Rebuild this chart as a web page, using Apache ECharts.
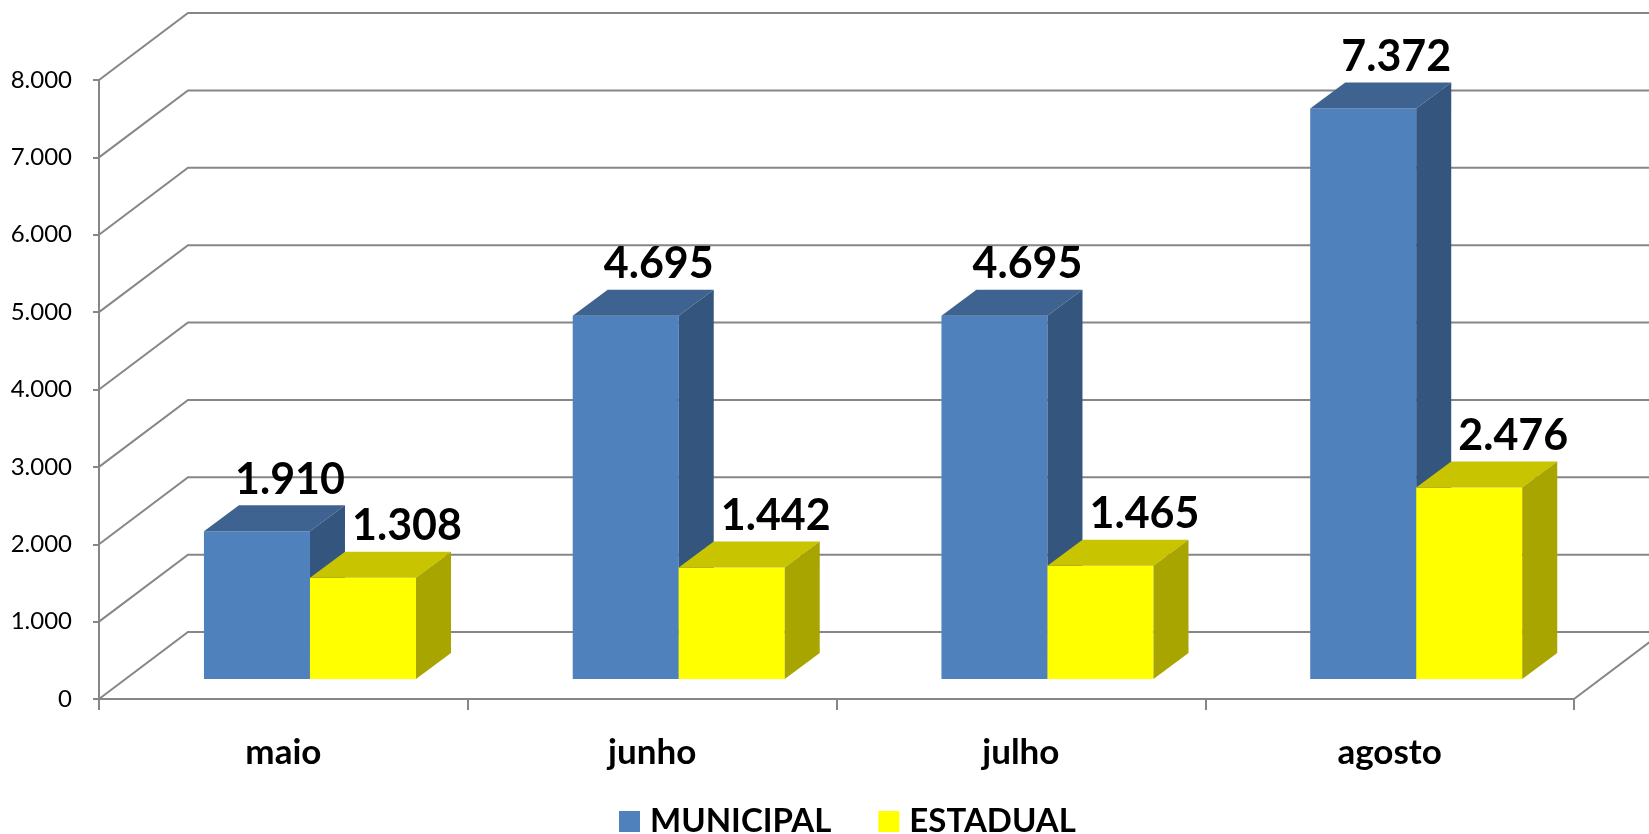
<!DOCTYPE html>
<html>
<head>
<meta charset="utf-8">
<script src="https://cdn.jsdelivr.net/npm/echarts@6/dist/echarts.min.js"></script>
<style>
  html, body { margin: 0; padding: 0; background: #fff; }
  #chart { width: 1649px; height: 834px; }
</style>
</head>
<body>
<div id="chart"></div>
<script>
const months = ["maio", "junho", "julho", "agosto"];
const municipal = [1910, 4695, 4695, 7372];
const estadual = [1308, 1442, 1465, 2476];
const yTicks = [0, 1000, 2000, 3000, 4000, 5000, 6000, 7000, 8000];

const FONT = "Lato";
const LINE = "#868686";
// profundidade do "3D"
const WALL_DX = 89, WALL_DY = -67;
const BAR_DX = 26.6, BAR_DY = -20;
const DEPTH_DX = 35, DEPTH_DY = -26;

const fmt = (v) => String(v).replace(/\B(?=(\d{3})+(?!\d))/g, ".");

const faces = {
  MUNICIPAL: { front: "#4F81BD", top: "#3F6391", side: "#34557D", labelShift: -2 },
  ESTADUAL: { front: "#FFFF00", top: "#C8C400", side: "#A8A500", labelShift: 9 }
};

// paredes do fundo + linhas diagonais
const renderWall = (params, api) => {
  const cs = params.coordSys;
  const y = api.coord([0, api.value(1)])[1];
  const x0 = cs.x;
  const children = [
    {
      type: "polyline",
      shape: { points: [[x0, y], [x0 + WALL_DX, y + WALL_DY], [x0 + cs.width + WALL_DX + 200, y + WALL_DY]] },
      style: { stroke: LINE, lineWidth: 2, fill: null }
    }
  ];
  if (api.value(1) === 0) {
    children.push({
      type: "line",
      shape: { x1: x0 + cs.width, y1: y, x2: x0 + cs.width + WALL_DX, y2: y + WALL_DY },
      style: { stroke: LINE, lineWidth: 2 }
    });
  }
  return { type: "group", children };
};

const makeBarRender = (k, name) => (params, api) => {
  const cat = api.value(0);
  const val = api.value(1);
  const top = api.coord([cat, val]);
  const base = api.coord([cat, 0]);
  const band = api.size([1, 0])[0];
  const w = band * 0.2875;
  const left = top[0] - w + k * w + BAR_DX;
  const yT = top[1] + BAR_DY;
  const yB = base[1] + BAR_DY;
  const c = faces[name];
  return {
    type: "group",
    children: [
      { type: "rect", shape: { x: left, y: yT, width: w, height: yB - yT }, style: { fill: c.front } },
      {
        type: "polygon",
        shape: { points: [[left, yT], [left + w, yT], [left + w + DEPTH_DX, yT + DEPTH_DY], [left + DEPTH_DX, yT + DEPTH_DY]] },
        style: { fill: c.top }
      },
      {
        type: "polygon",
        shape: { points: [[left + w, yT], [left + w + DEPTH_DX, yT + DEPTH_DY], [left + w + DEPTH_DX, yB + DEPTH_DY], [left + w, yB]] },
        style: { fill: c.side }
      },
      {
        type: "text",
        x: left + w / 2 + DEPTH_DX + c.labelShift,
        y: yT + DEPTH_DY - 4,
        style: {
          text: fmt(val),
          fill: "#000",
          font: "bold 43px " + FONT,
          align: "center",
          verticalAlign: "bottom"
        }
      }
    ]
  };
};

const option = {
  animation: false,
  grid: { left: 99, top: 80, right: 75, bottom: 135 },
  legend: {
    bottom: -4,
    left: 619,
    padding: 0,
    icon: "rect",
    itemWidth: 21,
    itemHeight: 21,
    itemGap: 47,
    data: ["MUNICIPAL", "ESTADUAL"],
    textStyle: { fontFamily: FONT, fontWeight: "bold", fontSize: 33, color: "#000", padding: [0, 0, 0, 5] }
  },
  xAxis: {
    type: "category",
    data: months,
    boundaryGap: true,
    axisLine: { show: true, lineStyle: { color: LINE, width: 2 } },
    axisTick: { show: true, length: 11, lineStyle: { color: LINE, width: 2 } },
    axisLabel: { margin: 36, fontFamily: FONT, fontWeight: "bold", fontSize: 35, color: "#000" },
    splitLine: { show: false }
  },
  yAxis: {
    type: "value",
    min: 0,
    max: 8000,
    interval: 1000,
    axisLine: { show: true, lineStyle: { color: LINE, width: 2 } },
    axisTick: { show: true, length: 6, lineStyle: { color: LINE, width: 2 } },
    axisLabel: { margin: 27, fontFamily: FONT, fontSize: 24, color: "#000", formatter: fmt },
    splitLine: { show: false }
  },
  series: [
    {
      name: "wall",
      type: "custom",
      clip: false,
      silent: true,
      z: 1,
      encode: { x: 0, y: 1 },
      data: yTicks.map((v) => [0, v]),
      renderItem: renderWall
    },
    {
      name: "MUNICIPAL",
      type: "custom",
      clip: false,
      z: 3,
      itemStyle: { color: faces.MUNICIPAL.front },
      encode: { x: 0, y: 1 },
      data: municipal.map((v, i) => [i, v]),
      renderItem: makeBarRender(0, "MUNICIPAL")
    },
    {
      name: "ESTADUAL",
      type: "custom",
      clip: false,
      z: 4,
      itemStyle: { color: faces.ESTADUAL.front },
      encode: { x: 0, y: 1 },
      data: estadual.map((v, i) => [i, v]),
      renderItem: makeBarRender(1, "ESTADUAL")
    }
  ]
};

const myChart = echarts.init(document.getElementById("chart"));
myChart.setOption(option);
</script>
</body>
</html>
